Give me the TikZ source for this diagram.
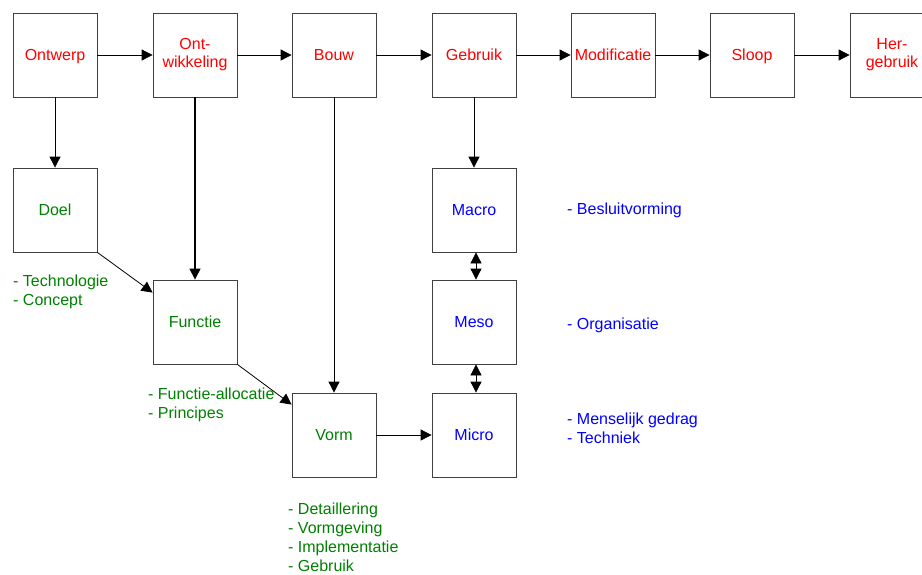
\documentclass[tikz,border=0pt]{standalone}
\usepackage{fontspec}
\setmainfont{Liberation Sans}
\usetikzlibrary{arrows.meta}
\definecolor{phase}{RGB}{255,0,0}
\definecolor{design}{RGB}{0,128,0}
\definecolor{scale}{RGB}{0,0,255}
\tikzset{
  stagebox/.style={draw=black!75, line width=0.8pt, minimum width=84pt, minimum height=84pt,
    inner sep=0pt, align=center, font=\fontsize{16}{18}\selectfont},
  oneline/.style={text height=12.5pt, text depth=2.5pt},
  phasebox/.style={stagebox, text=phase},
  designbox/.style={stagebox, oneline, text=design},
  scalebox/.style={stagebox, oneline, text=scale},
  note/.style={anchor=north west, inner sep=0pt, align=left, font=\fontsize{16}{19}\selectfont},
  flow/.style={line width=0.8pt, -{Triangle[length=11pt,width=11pt]}},
  both/.style={line width=0.8pt, {Triangle[length=11pt,width=11pt]}-{Triangle[length=11pt,width=11pt]}}
}
\begin{document}
\begin{tikzpicture}[x=1pt,y=-1pt]
\useasboundingbox (0,0) rectangle (922,574);

% life-cycle phases
\node[phasebox, oneline] (ontwerp) at (55,55) {Ontwerp};
\node[phasebox] (ontw) at (195,55) {Ont-\\wikkeling};
\node[phasebox, oneline] (bouw) at (334,55) {Bouw};
\node[phasebox, oneline] (gebruik) at (474,55) {Gebruik};
\node[phasebox, oneline] (modif) at (613,55) {Modificatie};
\node[phasebox, oneline] (sloop) at (752,55) {Sloop};
\node[phasebox] (herg) at (892,55) {Her-\\gebruik};

% design chain
\node[designbox] (doel) at (55,210) {Doel};
\node[designbox] (functie) at (195,322) {Functie};
\node[designbox] (vorm) at (334,435) {Vorm};

% levels of use
\node[scalebox] (macro) at (474,210) {Macro};
\node[scalebox] (meso) at (474,322) {Meso};
\node[scalebox] (micro) at (474,435) {Micro};

% connectors
\draw[flow] (ontwerp) -- (ontw);
\draw[flow] (ontw) -- (bouw);
\draw[flow] (bouw) -- (gebruik);
\draw[flow] (gebruik) -- (modif);
\draw[flow] (modif) -- (sloop);
\draw[flow] (sloop) -- (herg);
\draw[flow] (ontwerp) -- (doel);
\draw[flow, line width=1.1pt] (ontw) -- (functie);
\draw[flow] (bouw) -- (vorm);
\draw[flow] (gebruik) -- (macro);
\draw[flow] (doel.south east) -- ([yshift=-13pt]functie.north west);
\draw[flow] (functie.south east) -- ([yshift=-12pt]vorm.north west);
\draw[flow] (vorm) -- (micro);
\draw[both] ([xshift=2pt]macro.south) -- ([xshift=2pt]meso.north);
\draw[both] ([xshift=2pt]meso.south) -- ([xshift=2pt]micro.north);

% annotations
\node[note, text=design] (n1) at (13,275) {- Technologie\\- Concept};
\node[note, text=design] (n2) at (148,388) {- Functie-allocatie\\- Principes};
\node[note, text=design] (n3) at (288,503) {- Detaillering\\- Vormgeving\\- Implementatie\\- Gebruik};
\node[note, text=scale] (n4) at (567,203) {- Besluitvorming};
\node[note, text=scale] (n5) at (567,318) {- Organisatie};
\node[note, text=scale] (n6) at (567,413) {- Menselijk gedrag\\- Techniek};
\end{tikzpicture}
\end{document}
